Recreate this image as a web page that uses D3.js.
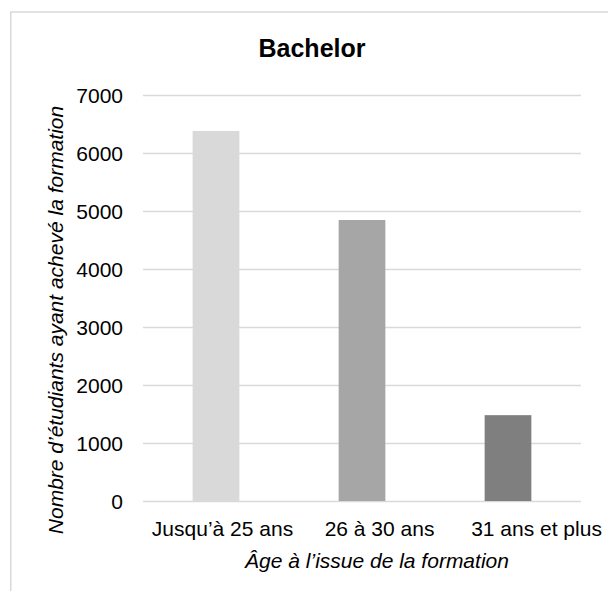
<!DOCTYPE html>
<html>
<head>
<meta charset="utf-8">
<script src="https://cdn.jsdelivr.net/npm/d3@7"></script>
<style>
  html, body { margin: 0; padding: 0; background: #fff; }
  svg { display: block; font-family: "Liberation Sans", Arial, sans-serif; }
</style>
</head>
<body>
<svg id="chart" width="608" height="591"></svg>
<script>
// Graduates of the Bachelor programme, by age at completion
const categories = ["Jusqu’à 25 ans", "26 à 30 ans", "31 ans et plus"];
const values = [6380, 4845, 1480];
const barColors = ["#d9d9d9", "#a6a6a6", "#7f7f7f"];
const yTicks = [0, 1000, 2000, 3000, 4000, 5000, 6000, 7000];
const chartTitle = "Bachelor";
const xTitle = "Âge à l’issue de la formation";
const yTitle = "Nombre d’étudiants ayant achevé la formation";

const svg = d3.select("#chart");

// outer frame (right and bottom edges fall outside the view)
svg.append("rect")
  .attr("x", 10.75).attr("y", 12).attr("width", 700).attr("height", 700)
  .attr("fill", "none").attr("stroke", "#d9d9d9").attr("stroke-width", 1.5);

const plot = { left: 143, right: 581, top: 95, bottom: 501 };

const x = d3.scaleBand()
  .domain(categories)
  .range([plot.left, plot.right])
  .paddingInner(0.68)
  .paddingOuter(0.34);

// category labels sit on their own, slightly wider spread
const xLabel = d3.scalePoint()
  .domain(categories)
  .range([222, 536]);

const y = d3.scaleLinear()
  .domain([0, 7000])
  .range([plot.bottom, plot.top]);

// horizontal gridlines
const yAxis = d3.axisLeft(y)
  .tickValues(yTicks)
  .tickSize(-(plot.right - plot.left))
  .tickPadding(20)
  .tickFormat(d3.format("d"));

const gy = svg.append("g")
  .attr("transform", `translate(${plot.left},0)`)
  .call(yAxis);
gy.select(".domain").remove();
gy.selectAll(".tick line").attr("stroke", "#d9d9d9").attr("stroke-width", 1.5);
gy.selectAll(".tick text")
  .attr("fill", "#000")
  .style("font-size", "21px")
  .attr("dy", "0.35em");

// bars
svg.append("g").selectAll("rect")
  .data(values)
  .join("rect")
  .attr("x", (d, i) => x(categories[i]))
  .attr("y", d => y(d))
  .attr("width", x.bandwidth())
  .attr("height", d => y(0) - y(d))
  .attr("fill", (d, i) => barColors[i]);

// category labels
const xAxis = d3.axisBottom(xLabel).tickSize(0).tickPadding(20);
const gx = svg.append("g")
  .attr("transform", `translate(0,${plot.bottom})`)
  .call(xAxis);
gx.select(".domain").remove();
gx.selectAll(".tick text")
  .attr("fill", "#000")
  .style("font-size", "21px");

// titles
svg.append("text")
  .attr("x", 312).attr("y", 56.5)
  .attr("text-anchor", "middle")
  .style("font-size", "25px").style("font-weight", "bold")
  .text(chartTitle);

svg.append("text")
  .attr("x", 377).attr("y", 568)
  .attr("text-anchor", "middle")
  .style("font-size", "21px").style("font-style", "italic")
  .text(xTitle);

svg.append("text")
  .attr("transform", "translate(63,320) rotate(-90)")
  .attr("text-anchor", "middle")
  .style("font-size", "21px").style("font-style", "italic")
  .text(yTitle);
</script>
</body>
</html>
